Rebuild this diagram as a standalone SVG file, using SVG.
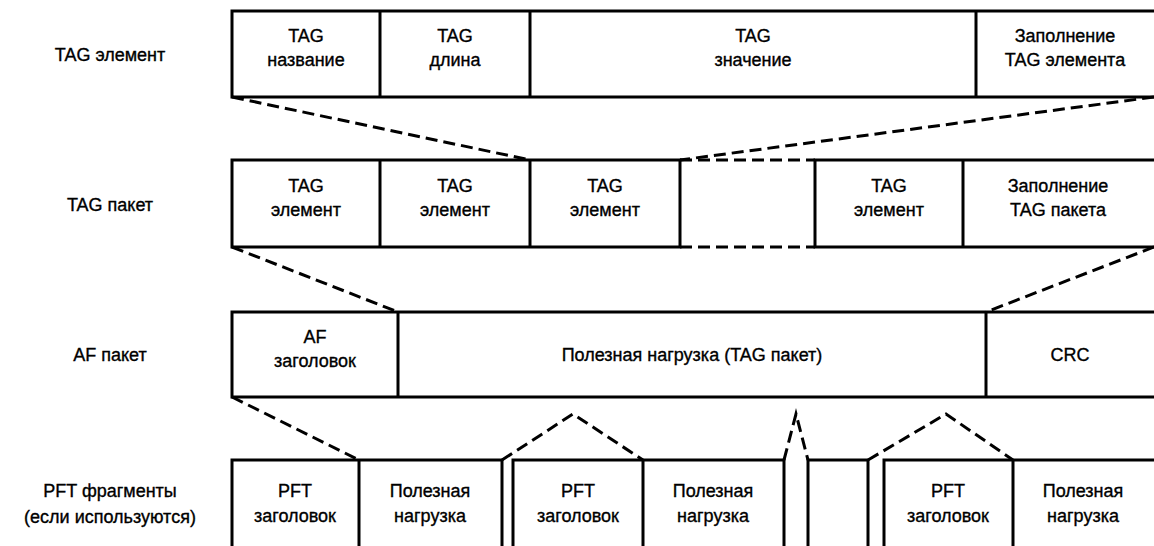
<svg xmlns="http://www.w3.org/2000/svg" width="1154" height="546" viewBox="0 0 1154 546">
<style>
.f{fill:none;stroke:#000;stroke-width:3;stroke-linecap:square}
.d{fill:none;stroke:#000;stroke-width:3;stroke-dasharray:12 6}
text{font-family:"Liberation Sans",Arial,sans-serif;font-size:18px;fill:#000;stroke:#000;stroke-width:0.35;text-anchor:middle}
</style>
<rect width="1154" height="546" fill="#fff"/>
<g id="labels">
<text x="110" y="61">TAG элемент</text>
<text x="110" y="211">TAG пакет</text>
<text x="110" y="361">AF пакет</text>
<text x="110" y="497">PFT фрагменты</text>
<text x="110" y="523">(если используются)</text>
</g>
<g id="row-tag-element">
<path class="f" d="M1154,11 H232 V97 H1154 M380,11 V97 M530,11 V97 M976,11 V97"/>
<g id="te-name"><text x="306" y="42">TAG</text><text x="306" y="66">название</text></g>
<g id="te-len"><text x="455" y="42">TAG</text><text x="455" y="66">длина</text></g>
<g id="te-val"><text x="753" y="42">TAG</text><text x="753" y="66">значение</text></g>
<g id="te-pad"><text x="1065" y="42">Заполнение</text><text x="1065" y="66">TAG элемента</text></g>
</g>
<g id="row-tag-packet">
<path class="f" d="M680,160 H232 V247 H680 M815,160 H1154 M815,247 H1154 M380,160 V247 M530,160 V247 M680,160 V247 M815,160 V247 M963,160 V247"/>
<path class="d" d="M680,160 H815 M680,247 H815"/>
<g id="tp-e1"><text x="306" y="192">TAG</text><text x="306" y="216">элемент</text></g>
<g id="tp-e2"><text x="455" y="192">TAG</text><text x="455" y="216">элемент</text></g>
<g id="tp-e3"><text x="605" y="192">TAG</text><text x="605" y="216">элемент</text></g>
<g id="tp-e4"><text x="889" y="192">TAG</text><text x="889" y="216">элемент</text></g>
<g id="tp-pad"><text x="1058" y="192">Заполнение</text><text x="1058" y="216">TAG пакета</text></g>
</g>
<g id="row-af">
<path class="f" d="M1154,312 H232 V397 H1154 M398,312 V397 M986,312 V397"/>
<g id="af-hdr"><text x="315" y="343">AF</text><text x="315" y="367">заголовок</text></g>
<g id="af-pl"><text x="692" y="361">Полезная нагрузка (TAG пакет)</text></g>
<g id="af-crc"><text x="1070" y="361">CRC</text></g>
</g>
<g id="row-pft">
<path class="f" d="M232,546 V460 H502 V546 M359,460 V546 M513,546 V460 H784 V546 M643,460 V546 M808,546 V460 H868 V546 M884,546 V460 H1154 M1013,460 V546"/>
<g id="pft1-hdr"><text x="295" y="497">PFT</text><text x="295" y="522">заголовок</text></g>
<g id="pft1-pl"><text x="430" y="497">Полезная</text><text x="430" y="522">нагрузка</text></g>
<g id="pft2-hdr"><text x="578" y="497">PFT</text><text x="578" y="522">заголовок</text></g>
<g id="pft2-pl"><text x="713" y="497">Полезная</text><text x="713" y="522">нагрузка</text></g>
<g id="pft3-hdr"><text x="948" y="497">PFT</text><text x="948" y="522">заголовок</text></g>
<g id="pft3-pl"><text x="1083" y="497">Полезная</text><text x="1083" y="522">нагрузка</text></g>
</g>
<g id="connectors">
<path class="d" d="M232,97 L530,160"/>
<path class="d" d="M1154,97 L680,160"/>
<path class="d" d="M232,247 L398,312"/>
<path class="d" d="M1154,247 L986,312"/>
<path class="d" d="M232,397 L359,460"/>
<path class="d" d="M502,460 L573,414 L643,460"/>
<path class="d" d="M784,460 L796,414 L808,460"/>
<path class="d" d="M868,460 L946,414 L1013,460"/>
</g>
</svg>
